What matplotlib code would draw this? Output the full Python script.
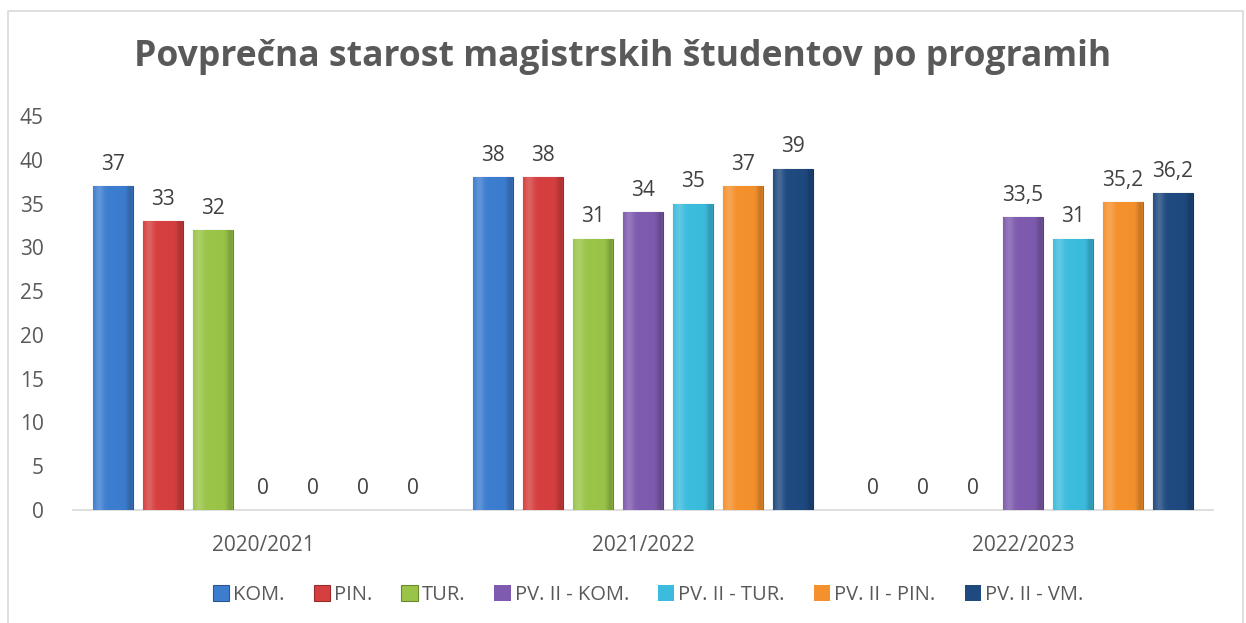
import numpy as np
import matplotlib.pyplot as plt
from matplotlib.colors import to_rgb

plt.rcParams['font.family'] = ['Open Sans', 'DejaVu Sans']

years = ['2020/2021', '2021/2022', '2022/2023']
programs = ['KOM.', 'PIN.', 'TUR.', 'PV. II - KOM.', 'PV. II - TUR.', 'PV. II - PIN.', 'PV. II - VM.']
values = [
    [37, 38, 0],
    [33, 38, 0],
    [32, 31, 0],
    [0, 34, 33.5],
    [0, 35, 31],
    [0, 37, 35.2],
    [0, 39, 36.2],
]
colors = ['#3D7DCF', '#D63F3F', '#9AC448', '#7E5BAE', '#3CBCDD', '#F5912D', '#1F4A80']

grey = '#595959'

fig = plt.figure(figsize=(12.46, 6.23), dpi=100)
# chart border
fig.patches.append(plt.Rectangle((8 / 1246, -0.1), 1235 / 1246, 1.1 - 11 / 623,
                                 transform=fig.transFigure, fill=False,
                                 edgecolor='#D9D9D9', linewidth=1.2))
ax = fig.add_axes([73 / 1246, 1 - 510 / 623, 1140 / 1246, 394 / 623])

x = np.arange(len(years))
w = 40 / 380
step = 50 / 380


def shade(c, f):
    r = np.array(to_rgb(c))
    if f > 0:
        return r + (1 - r) * f
    return r * (1 + f)


for i, (name, vals, c) in enumerate(zip(programs, values, colors)):
    pos = x + (i - 3) * step
    lw = [0.8 if v > 0 else 0 for v in vals]
    bars = ax.bar(pos, vals, w, color=c, edgecolor=shade(c, -0.3), linewidth=lw,
                  label=name, zorder=3)
    for b, v in zip(bars, vals):
        if v > 0:
            # horizontal bevel-ish gradient
            t = np.linspace(0, 1, 40)
            prof = 0.18 * np.exp(-((t - 0.15) / 0.12) ** 2) - 0.18 * np.exp(-((t - 0.95) / 0.1) ** 2)
            img = np.array([[shade(c, p) for p in prof]])
            img = np.clip(img, 0, 1)
            x0, y0 = b.get_x(), b.get_y()
            im = ax.imshow(img, extent=(x0, x0 + b.get_width(), y0, y0 + b.get_height()),
                           aspect='auto', zorder=3.5, interpolation='bilinear')
            im.set_clip_path(b)
        lbl = str(v).replace('.', ',') if v % 1 else str(int(v))
        ax.annotate(lbl, (b.get_x() + b.get_width() / 2, v), xytext=(0, 8),
                    textcoords='offset points', ha='center', va='bottom',
                    fontsize=15, color='#404040')

ax.set_xlim(-0.5, 2.5)
ax.set_ylim(0, 45)
ax.set_yticks(range(0, 46, 5))
ax.set_xticks(x)
ax.set_xticklabels(years)
ax.tick_params(axis='both', length=0, labelsize=15, labelcolor=grey)
ax.tick_params(axis='x', pad=18)
ax.tick_params(axis='y', pad=21)
for s in ['top', 'right', 'left']:
    ax.spines[s].set_visible(False)
ax.spines['bottom'].set_color('#D9D9D9')
ax.spines['bottom'].set_linewidth(1.2)

fig.text(0.5, 1 - 57 / 623, 'Povprečna starost magistrskih študentov po programih',
         ha='center', va='center', fontsize=25.6, fontweight='bold', color=grey)

leg = fig.legend(loc='center', bbox_to_anchor=(648 / 1246, 1 - 595 / 623), ncol=7,
                 frameon=False, fontsize=14.5, handlelength=0.8, handleheight=0.8,
                 handletextpad=0.2, columnspacing=1.45)
for t in leg.get_texts():
    t.set_color(grey)

fig.savefig('out.png', dpi=100)
